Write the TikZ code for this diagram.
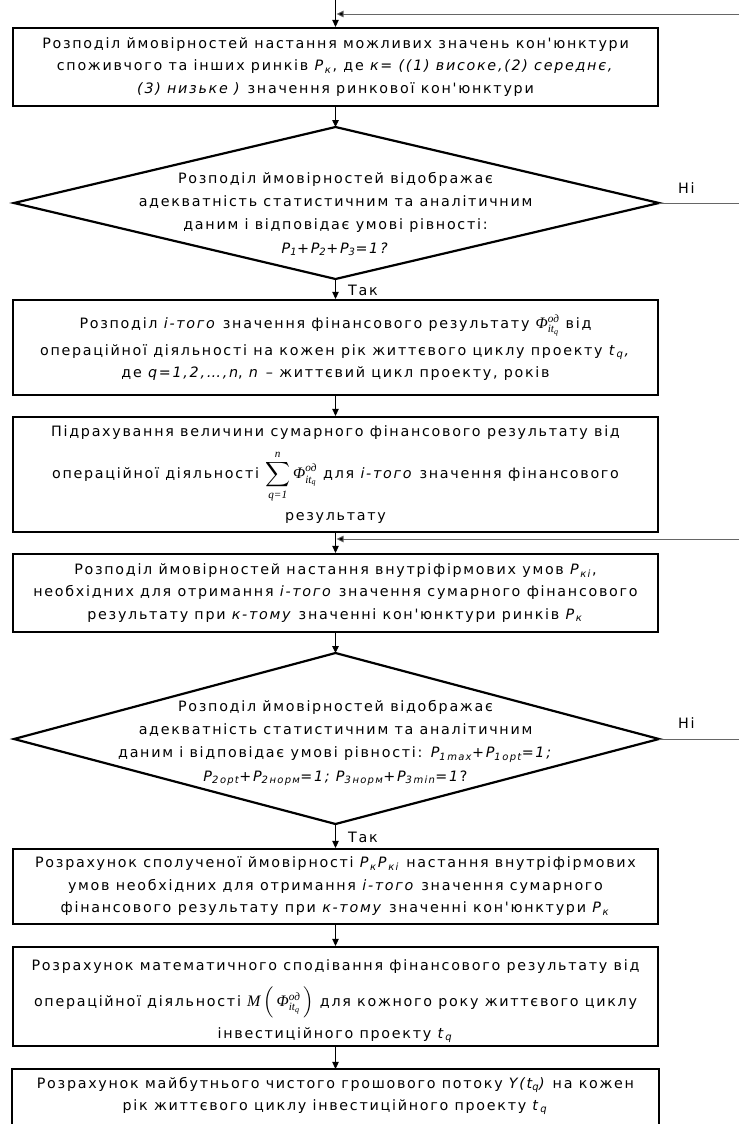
\documentclass[tikz,border=0pt]{standalone}
\usepackage{amsmath}
\usepackage{fontspec}
\setmainfont{DejaVu Sans}[LetterSpace=12,Ligatures=TeXOff]
\newfontfamily\tms{Liberation Serif}
\usetikzlibrary{arrows.meta}
\newcommand\Pk{\textit{P}\textsubscript{\textit{к}}}
\newcommand\Pki{\textit{P}\textsubscript{\textit{кі}}}
\newcommand\tQ{\textit{t}\textsubscript{\textit{q}}}
\newcommand\PhiT{\text{\tms\itshape Φ}^{\text{\tms\itshape од}}_{\text{\tms\itshape it}_{\text{\tms\itshape q}}}}
\newcommand\Phiod{{\fontsize{16}{16}\selectfont$\PhiT$}}
\newcommand\Sumf{{\fontsize{16}{16}\selectfont$\displaystyle\sum_{\text{\tms\itshape q=1}}^{\text{\tms\itshape n}}\PhiT$}}
\newcommand\Mform{{\fontsize{16}{16}\selectfont$\text{\tms\itshape M}\left(\,\PhiT\,\right)$}}
\tikzset{
  txt/.style={font=\fontsize{14.3}{22.5}\selectfont},
  box/.style={txt, draw, line width=2.2pt, minimum width=645pt, align=center, inner sep=0pt},
  dtext/.style={font=\fontsize{14.3}{23.3}\selectfont, align=center, inner sep=0pt},
  dia/.style={line width=2.2pt, line join=miter},
  arr/.style={-{Triangle[length=7pt,width=6.5pt]}, line width=0.9pt},
  fb/.style={draw=black!60, line width=0.9pt},
  fbarr/.style={fb, -{Triangle[length=7pt,width=6.5pt,fill=black]}},
  lbl/.style={txt, inner sep=0pt}
}
\begin{document}
\begin{tikzpicture}[x=1pt,y=-1pt]
\useasboundingbox (0,0) rectangle (739,1124);
\fill[white] (0,0) rectangle (739,1124);

% boxes
\node[box, minimum height=78pt] (b1) at (335.5,67) {Розподіл ймовірностей настання можливих значень кон'юнктури\\
споживчого та інших ринків \Pk, де \textit{к= ((1) високе,(2) середнє,}\\
\textit{(3) низьке )} значення ринкової кон'юнктури};

\node[box, minimum height=95pt] (b2) at (335.5,347.5) {Розподіл \textit{і-того} значення фінансового результату \Phiod\ від\\[4pt]
операційної діяльності на кожен рік життєвого циклу проекту \tQ\textit{,}\\
де \textit{q=1,2,…,n}, \textit{n} – життєвий цикл проекту, років};

\node[box, minimum height=115pt] (b3) at (335.5,474.5) {Підрахування величини сумарного фінансового результату від\\[10pt]
операційної діяльності \Sumf\ для \textit{і-того} значення фінансового\\[9pt]
результату};

\node[box, minimum height=78pt] (b4) at (335.5,593) {Розподіл ймовірностей настання внутріфірмових умов \Pki,\\
необхідних для отримання \textit{і-того} значення сумарного фінансового\\
результату при \textit{к-тому} значенні кон'юнктури ринків \Pk};

\node[box, minimum height=75pt] (b5) at (335.5,886.5) {Розрахунок сполученої ймовірності \Pk\Pki\ настання внутріфірмових\\
умов необхідних для отримання \textit{і-того} значення сумарного\\
фінансового результату при \textit{к-тому} значенні кон'юнктури \Pk};

\node[box, minimum height=99pt] (b6) at (335.5,996.5) {\rule{0pt}{20pt}Розрахунок математичного сподівання фінансового результату від\\[12pt]
операційної діяльності \Mform\ для кожного року життєвого циклу\\[9pt]
інвестиційного проекту \tQ};

\node[box, draw=none, minimum height=52pt] (b7) at (335.5,1096) {Розрахунок майбутнього чистого грошового потоку \textit{Y(t\textsubscript{q})} на кожен\\
рік життєвого циклу інвестиційного проекту \tQ};
\draw[line width=2.2pt] ([yshift=-12pt]b7.south west) |- (b7.north east) -- ([yshift=-12pt]b7.south east);

% diamonds
\coordinate (d1t) at (335.5,127);
\coordinate (d1r) at (659,203);
\coordinate (d1b) at (335.5,279);
\coordinate (d1l) at (14,203);
\draw[dia] (d1t) -- (d1r) -- (d1b) -- (d1l) -- cycle;
\node[dtext] (d1) at (335.5,214) {Розподіл ймовірностей відображає\\
адекватність статистичним та аналітичним\\
даним і відповідає умові рівності:\\
\textit{P\textsubscript{1}+P\textsubscript{2}+P\textsubscript{3}=1?}};

\coordinate (d2t) at (335.5,653);
\coordinate (d2r) at (659,739);
\coordinate (d2b) at (335.5,824);
\coordinate (d2l) at (14,739);
\draw[dia] (d2t) -- (d2r) -- (d2b) -- (d2l) -- cycle;
\node[dtext] (d2) at (335.5,743) {Розподіл ймовірностей відображає\\
адекватність статистичним та аналітичним\\
даним і відповідає умові рівності: \textit{P\textsubscript{1\,max}+P\textsubscript{1\,opt}=1;}\\
\textit{P\textsubscript{2\,opt}+P\textsubscript{2\,норм}=1; P\textsubscript{3\,норм}+P\textsubscript{3\,min}=1}?};

% connectors
\coordinate (in1) at (335.5,0);
\coordinate (fb1s) at (739,14);
\coordinate (fb1e) at (336.5,14);
\draw[arr] (in1) -- (b1.north);
\draw[fbarr] (fb1s) -- (fb1e);
\draw[arr] (b1.south) -- (d1t);

\coordinate (n1) at (739,203);
\draw[fb] (d1r) -- (n1);
\node[lbl, anchor=west] (ni1) at (678,188) {Ні};

\draw[arr] (d1b) -- (b2.north);
\node[lbl, anchor=west] (tak1) at (348,290) {Так};
\draw[arr] (b2.south) -- (b3.north);
\draw[arr] (b3.south) -- (b4.north);
\coordinate (fb2s) at (739,539);
\coordinate (fb2e) at (336.5,539);
\draw[fbarr] (fb2s) -- (fb2e);
\draw[arr] (b4.south) -- (d2t);

\coordinate (n2) at (739,739);
\draw[fb] (d2r) -- (n2);
\node[lbl, anchor=west] (ni2) at (678,723) {Ні};

\draw[arr] (d2b) -- (b5.north);
\node[lbl, anchor=west] (tak2) at (348,837) {Так};
\draw[arr] (b5.south) -- (b6.north);
\draw[arr] (b6.south) -- (b7.north);
\end{tikzpicture}
\end{document}
